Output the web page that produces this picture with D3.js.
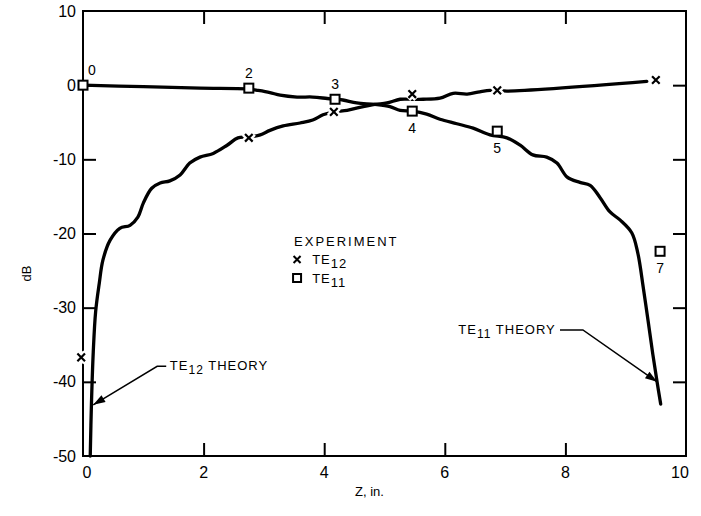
<!DOCTYPE html>
<html>
<head>
<meta charset="UTF-8">
<title>TE11 / TE12</title>
<script src="https://d3js.org/d3.v7.min.js"></script>
<style>
  body { margin: 0; background: #fff; }
  text { font-family: "Liberation Sans", Arial, sans-serif; fill: #000; }
</style>
</head>
<body>
<div id="chart"></div>
<script>
// theory curves, z in inches / level in dB
const te11TheoryZ  = [0, 1.0, 1.94, 2.72, 2.89, 3.1, 3.27, 3.55, 3.81, 4.05, 4.18, 4.31, 4.54, 4.84, 5.09, 5.26, 5.46, 5.7, 5.92, 6.2, 6.47, 6.75, 7.03, 7.25, 7.46, 7.69, 7.86, 8.03, 8.24, 8.41, 8.57, 8.74, 8.91, 9.1, 9.2, 9.29, 9.37, 9.45, 9.52, 9.58];
const te11TheoryDb = [0, -0.2, -0.4, -0.5, -0.7, -1.0, -1.35, -1.6, -1.6, -1.8, -1.9, -2.0, -2.4, -2.6, -2.9, -3.4, -3.5, -3.9, -4.6, -5.2, -5.8, -6.7, -7.1, -8.1, -9.4, -9.7, -10.5, -12.4, -13.1, -13.5, -15.1, -17.1, -18.2, -19.9, -22.6, -27.2, -31.7, -36.3, -40, -43];

const te12TheoryZ  = [0.12, 0.14, 0.17, 0.21, 0.27, 0.33, 0.45, 0.61, 0.78, 0.91, 1.0, 1.14, 1.28, 1.44, 1.61, 1.77, 1.94, 2.16, 2.39, 2.57, 2.75, 2.94, 3.1, 3.32, 3.6, 3.81, 3.98, 4.16, 4.38, 4.59, 4.84, 5.04, 5.26, 5.46, 5.64, 5.92, 6.14, 6.37, 6.58, 6.75, 6.87, 7.03, 9.35];
const te12TheoryDb = [-50, -43, -36, -30.5, -26.7, -23.6, -20.9, -19.3, -18.9, -17.8, -15.9, -13.9, -13.2, -12.9, -12.1, -10.5, -9.7, -9.2, -8.1, -7.1, -7.0, -6.7, -6.1, -5.5, -5.1, -4.7, -4.0, -3.6, -3.4, -3.0, -2.6, -2.4, -1.9, -1.9, -1.9, -1.75, -1.1, -1.2, -0.9, -0.7, -0.7, -0.8, 0.5];

// experiment points
const te12ExpZ  = [-0.03, 2.75, 4.16, 5.46, 6.87, 9.5];
const te12ExpDb = [-36.7, -7.1, -3.6, -1.2, -0.7, 0.7];
const te11ExpZ  = [0, 2.75, 4.18, 5.46, 6.87, 9.57];
const te11ExpDb = [0, -0.4, -1.9, -3.5, -6.2, -22.4];
const te11ExpLabels = ["0", "2", "3", "4", "5", "7"];

const xTicks = [0, 2, 4, 6, 8, 10];
const yTicks = [10, 0, -10, -20, -30, -40, -50];

// theory callouts: text, text pos, elbow (2 pts), arrow tip
const calloutMode   = ["12", "11"];
const calloutTextZ  = [1.44, 7.84];
const calloutTextDb = [-38.4, -33.6];
const calloutElbowZ = [[1.38, 1.23], [7.91, 8.29]];
const calloutElbowDb = [-37.9, -33.0];
const calloutTipZ   = [0.17, 9.52];
const calloutTipDb  = [-43.1, -40.0];

const W = 701, H = 516;
const margin = { top: 11, right: 15, bottom: 60, left: 83 };

const svg = d3.select("#chart").append("svg")
  .attr("width", W).attr("height", H);

const x = d3.scaleLinear().domain([0, 10]).range([margin.left, W - margin.right]);
const y = d3.scaleLinear().domain([-50, 10]).range([H - margin.bottom, margin.top]);

const tickLen = 13;

// frame
svg.append("rect")
  .attr("x", x(0)).attr("y", y(10))
  .attr("width", x(10) - x(0)).attr("height", y(-50) - y(10))
  .attr("fill", "none").attr("stroke", "#000").attr("stroke-width", 2);

// inward ticks all round
svg.append("g").attr("transform", `translate(${x(0)},0)`)
  .call(d3.axisRight(y).tickValues(yTicks.slice(1, -1)).tickSize(tickLen).tickFormat(""))
  .call(g => g.select(".domain").remove());
svg.append("g").attr("transform", `translate(${x(10)},0)`)
  .call(d3.axisLeft(y).tickValues(yTicks.slice(1, -1)).tickSize(tickLen).tickFormat(""))
  .call(g => g.select(".domain").remove());
svg.append("g").attr("transform", `translate(0,${y(-50)})`)
  .call(d3.axisTop(x).tickValues(xTicks.slice(1, -1)).tickSize(tickLen).tickFormat(""))
  .call(g => g.select(".domain").remove());
svg.append("g").attr("transform", `translate(0,${y(10)})`)
  .call(d3.axisBottom(x).tickValues(xTicks.slice(1, -1)).tickSize(tickLen).tickFormat(""))
  .call(g => g.select(".domain").remove());
svg.selectAll(".tick line").attr("stroke", "#000").attr("stroke-width", 2);

// tick labels
svg.append("g").selectAll("text").data(yTicks).join("text")
  .attr("x", x(0) - 7).attr("y", d => y(d)).attr("dy", "0.35em")
  .attr("text-anchor", "end").attr("font-size", 16)
  .text(d => d);
svg.append("g").selectAll("text").data(xTicks).join("text")
  .attr("x", d => x(d) + (d === 0 ? 4 : d === 10 ? -6 : 0)).attr("y", y(-50) + 22)
  .attr("text-anchor", "middle").attr("font-size", 16)
  .text(d => d);

// axis titles
svg.append("text")
  .attr("transform", `translate(31,${(y(10) + y(-50)) / 2 + 40}) rotate(-90)`)
  .attr("text-anchor", "middle").attr("font-size", 13)
  .text("dB");
svg.append("text")
  .attr("x", (x(0) + x(10)) / 2 - 15).attr("y", y(-50) + 40)
  .attr("text-anchor", "middle").attr("font-size", 13)
  .text("Z, in.");

// theory curves
const line = d3.line().x(d => x(d[0])).y(d => y(d[1])).curve(d3.curveCatmullRom);
const curves = [
  d3.zip(te11TheoryZ, te11TheoryDb),
  d3.zip(te12TheoryZ, te12TheoryDb)
];
svg.append("g").selectAll("path").data(curves).join("path")
  .attr("d", line)
  .attr("fill", "none").attr("stroke", "#000")
  .attr("stroke-width", 3.3).attr("stroke-linejoin", "round").attr("stroke-linecap", "round");

// TE12 experiment crosses (white halo breaks the curve)
const cross = (cx, cy, s) => `M${cx - s},${cy - s}L${cx + s},${cy + s}M${cx - s},${cy + s}L${cx + s},${cy - s}`;
const te12Pts = d3.zip(te12ExpZ, te12ExpDb);
svg.append("g").selectAll("path").data(te12Pts).join("path")
  .attr("d", d => cross(x(d[0]), y(d[1]), 4.5))
  .attr("stroke", "#fff").attr("stroke-width", 7).attr("fill", "none");
svg.append("g").selectAll("path").data(te12Pts).join("path")
  .attr("d", d => cross(x(d[0]), y(d[1]), 3.8))
  .attr("stroke", "#000").attr("stroke-width", 2.2).attr("fill", "none");

// TE11 experiment squares
const te11Pts = d3.zip(te11ExpZ, te11ExpDb, te11ExpLabels);
svg.append("g").selectAll("rect").data(te11Pts).join("rect")
  .attr("x", d => x(d[0]) - 4.5).attr("y", d => y(d[1]) - 4.5)
  .attr("width", 9).attr("height", 9)
  .attr("fill", "#fff").attr("stroke", "#000").attr("stroke-width", 2);

// point numbers: above for most, below for 4, 5, 7
const below = { "4": true, "5": true, "7": true };
svg.append("g").selectAll("text").data(te11Pts).join("text")
  .attr("x", d => x(d[0]) + (d[2] === "0" ? 9 : 0))
  .attr("y", d => y(d[1]) + (below[d[2]] ? 22 : -10))
  .attr("text-anchor", "middle").attr("font-size", 14)
  .text(d => d[2]);

// legend
const lg = svg.append("g").attr("font-size", 13);
lg.append("text").attr("x", x(3.5)).attr("y", y(-21.7)).attr("letter-spacing", 2).text("EXPERIMENT");
lg.append("path").attr("d", cross(x(3.55), y(-23.5), 3.5))
  .attr("stroke", "#000").attr("stroke-width", 2).attr("fill", "none");
lg.append("rect").attr("x", x(3.55) - 4).attr("y", y(-26) - 4).attr("width", 8).attr("height", 8)
  .attr("fill", "#fff").attr("stroke", "#000").attr("stroke-width", 2);
const legTexts = ["12", "11"];
const legDb = [-23.5, -26];
legTexts.forEach((m, i) => {
  const t = lg.append("text").attr("x", x(3.8)).attr("y", y(legDb[i]) + 5).attr("letter-spacing", 1);
  t.append("tspan").text("TE");
  t.append("tspan").attr("dy", 4).attr("font-size", 13).text(m);
});

// theory callouts
calloutMode.forEach((m, i) => {
  const t = svg.append("text")
    .attr("x", x(calloutTextZ[i])).attr("y", y(calloutTextDb[i]))
    .attr("text-anchor", i === 0 ? "start" : "end")
    .attr("font-size", 13).attr("letter-spacing", 1);
  t.append("tspan").text("TE");
  t.append("tspan").attr("dy", 4).attr("font-size", 12).text(m);
  t.append("tspan").attr("dy", -4).text(" THEORY");

  const ez = calloutElbowZ[i];
  const tip = [x(calloutTipZ[i]), y(calloutTipDb[i])];
  const elb = [x(ez[1]), y(calloutElbowDb[i])];
  svg.append("path")
    .attr("d", `M${x(ez[0])},${y(calloutElbowDb[i])}L${elb[0]},${elb[1]}L${tip[0]},${tip[1]}`)
    .attr("fill", "none").attr("stroke", "#000").attr("stroke-width", 1.5);
  // arrow head
  const ang = Math.atan2(tip[1] - elb[1], tip[0] - elb[0]);
  const L = 12, Wd = 4;
  const bx = tip[0] - L * Math.cos(ang), by = tip[1] - L * Math.sin(ang);
  svg.append("path")
    .attr("d", `M${tip[0]},${tip[1]}L${bx + Wd * Math.sin(ang)},${by - Wd * Math.cos(ang)}L${bx - Wd * Math.sin(ang)},${by + Wd * Math.cos(ang)}Z`)
    .attr("fill", "#000");
});
</script>
</body>
</html>
